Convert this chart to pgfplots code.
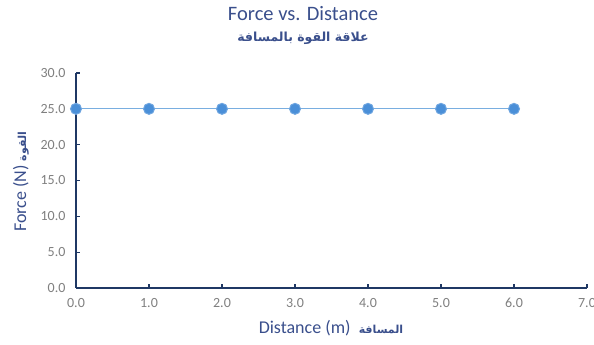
\documentclass[border=0pt]{standalone}
\usepackage{pgfplots}
\pgfplotsset{compat=1.18}
\usepackage{fontspec}
\setmainfont{Carlito}
\newfontfamily\arabicfont[Script=Arabic]{DejaVu Sans}
\TeXXeTstate=1
\definecolor{titleblue}{HTML}{3A4F8C}
\definecolor{axisnavy}{HTML}{1F3864}
\definecolor{ptblue}{HTML}{4A8FD8}
\definecolor{lineblue}{HTML}{79AEE0}
\definecolor{tickgray}{HTML}{7F7F7F}
\begin{document}
\begin{tikzpicture}[x=1pt,y=1pt]
\useasboundingbox (0pt,0pt) rectangle (594pt,345pt);
\begin{axis}[
  at={(76pt,57pt)}, anchor=south west,
  scale only axis, width=511pt, height=215pt,
  xmin=0, xmax=7, ymin=0, ymax=30,
  axis x line*=bottom, axis y line*=left,
  axis line style={axisnavy, line width=2.2pt},
  xtick={0,1,...,7}, ytick={0,5,...,30},
  tick style={axisnavy, line width=1.2pt},
  major tick length=3.5pt,
  tick align=inside,
  /pgf/number format/fixed,
  /pgf/number format/fixed zerofill,
  /pgf/number format/precision=1,
  /pgf/number format/assume math mode=true,
  tick label style={text=tickgray, font=\fontsize{14}{16}\selectfont},
  xticklabel style={yshift=-7pt},
  yticklabel style={xshift=-7pt},
  clip=false,
]
\addplot[color=lineblue, line width=1pt, mark=*, mark size=5.5pt,
  mark options={fill=ptblue, draw=ptblue!80!white}]
  coordinates {(0,25) (1,25) (2,25) (3,25) (4,25) (5,25) (6,25)};
\end{axis}
\node[text=titleblue, font=\fontsize{20.5}{22}\selectfont] at (303pt,331pt) {Force vs. Distance};
\node[text=titleblue, font=\fontsize{12.5}{14}\selectfont] at (303pt,307pt) {\arabicfont\bfseries\beginR علاقة القوة بالمسافة\endR};
\node[text=titleblue, font=\fontsize{18}{20}\selectfont] at (331pt,17pt) {Distance (m)\ \ {\arabicfont\bfseries\fontsize{11}{12}\selectfont\beginR المسافة\endR}};
\node[text=titleblue, font=\fontsize{18}{20}\selectfont, rotate=90] at (21pt,163pt) {Force (N)\ {\arabicfont\bfseries\fontsize{11}{12}\selectfont\beginR القوة\endR}};
\end{tikzpicture}
\end{document}
